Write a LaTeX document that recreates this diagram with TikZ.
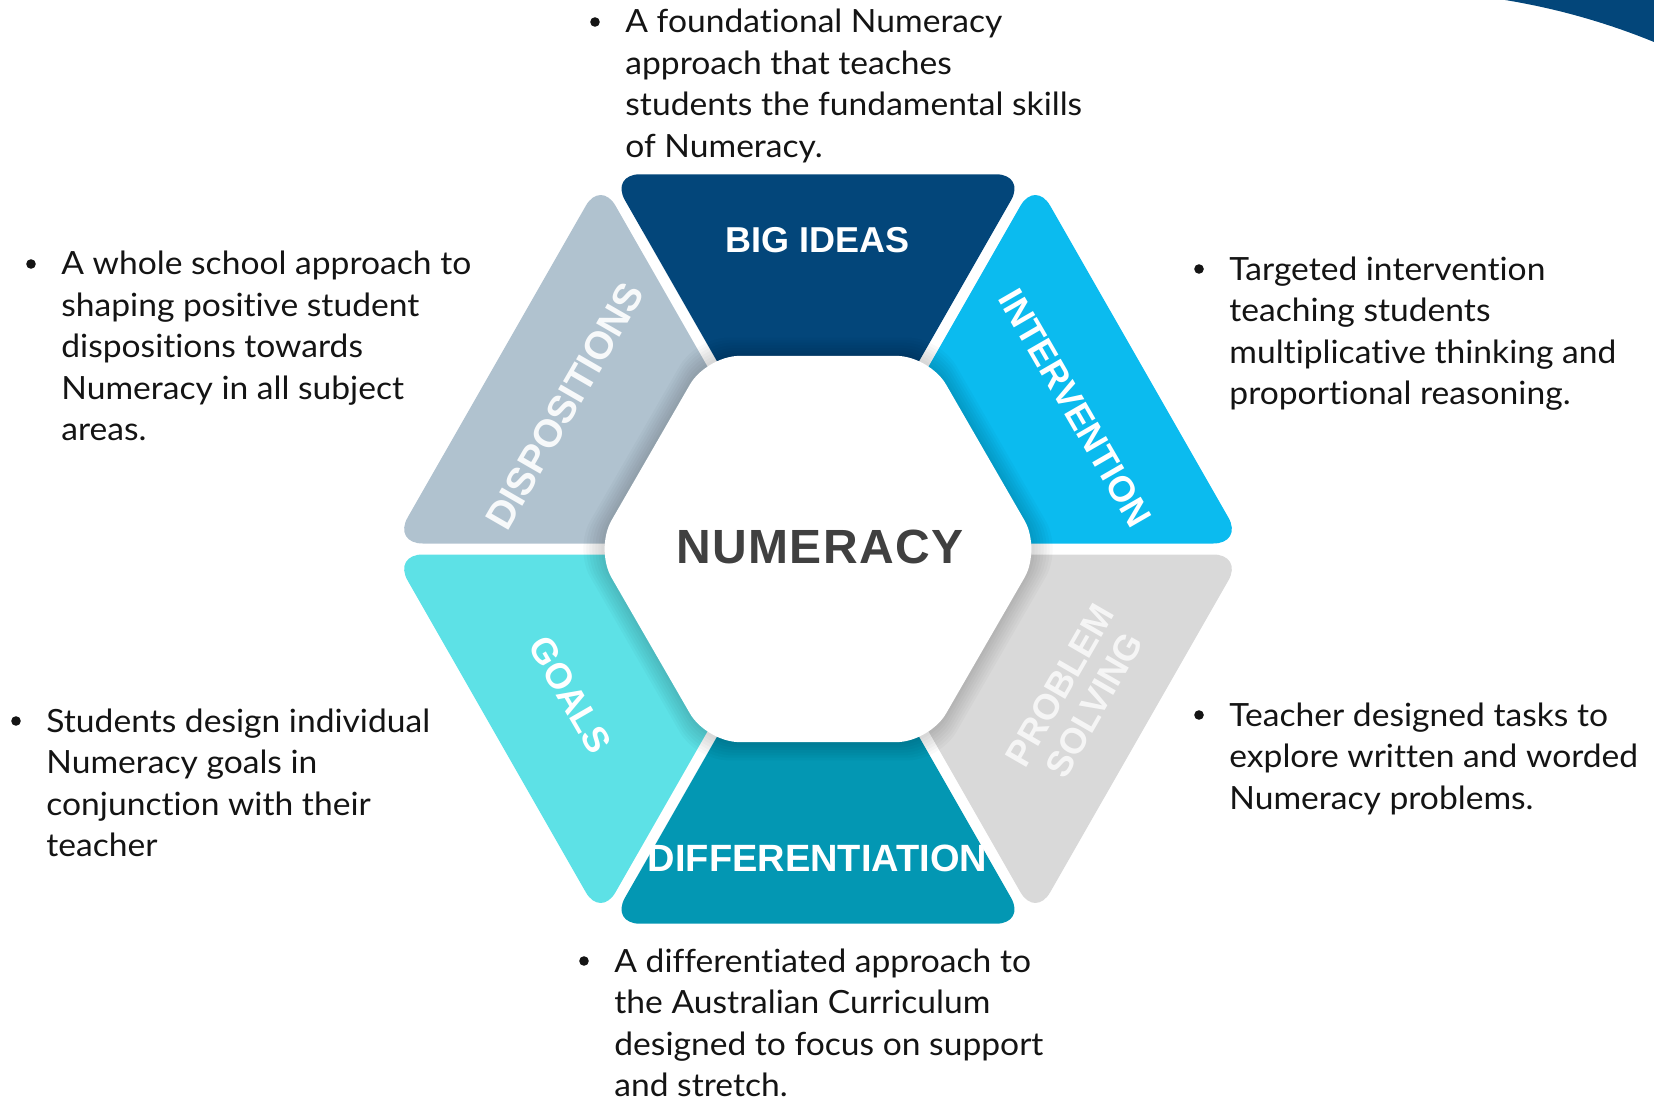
\documentclass[tikz,border=0pt]{standalone}
\usepackage{fontspec}
\setmainfont{Lato}[FakeStretch=1.05, Ligatures=NoCommon]
\newfontfamily\labelfont{Liberation Sans}
\newfontfamily\titlefont{Liberation Sans}[LetterSpace=3]
\usetikzlibrary{calc,positioning}

\definecolor{bigblue}{RGB}{3,70,122}
\definecolor{intblue}{RGB}{11,187,239}
\definecolor{probgrey}{RGB}{217,217,217}
\definecolor{diffteal}{RGB}{3,151,179}
\definecolor{goalcyan}{RGB}{93,225,230}
\definecolor{dispgrey}{RGB}{176,194,207}
\definecolor{numgrey}{RGB}{64,64,64}
\definecolor{inkblack}{RGB}{20,20,20}

\begin{document}
\begin{tikzpicture}[x=0.5pt, y=-0.5pt,
    seglabel/.style={text=white, inner sep=0pt, font=\labelfont\bfseries\fontsize{18}{20}\selectfont},
    bodytext/.style={anchor=base west, align=left, inner sep=0pt, text=inkblack, font=\fontsize{16}{20.75}\selectfont},
    bulletdot/.style={circle, fill=inkblack, inner sep=0pt, minimum size=4.8pt}]

\useasboundingbox (0,0) rectangle (1654,1101);

% corner swoosh
\fill[bigblue] (1505,0) .. controls (1560,9) and (1610,24) .. (1654,42) -- (1654,0) -- cycle;

% six segments of the hexagon
\coordinate (C) at (818,549);
\begin{scope}[shift={(C)}, xscale=0.99]
  \foreach \a/\col in {240/bigblue,300/intblue,0/probgrey,60/diffteal,120/goalcyan,180/dispgrey}
    \fill[\col, rounded corners=15pt] (\a+30:11) -- ++(\a:420) -- ++(\a+120:420) -- cycle;
\end{scope}

% soft shadow and white centre
\foreach \k in {1,...,7}
  \fill[black, opacity=0.022, rounded corners=16pt, shift={(C)}]
    (0:223+3*\k) -- (60:223+3*\k) -- (120:223+3*\k) -- (180:223+3*\k) -- (240:223+3*\k) -- (300:223+3*\k) -- cycle;
\fill[white, rounded corners=16.5pt, shift={(C)}]
  (0:223) -- (60:223) -- (120:223) -- (180:223) -- (240:223) -- (300:223) -- cycle;

% labels
\node[font=\titlefont\bfseries\fontsize{24}{26}\selectfont, text=numgrey, inner sep=0pt] (numeracy) at (820,546.5) {NUMERACY};
\node[seglabel] (bigideas) at (817.5,240) {BIG IDEAS};
\node[seglabel, rotate=-60] (intervention) at (1075,408) {INTERVENTION};
\node[seglabel, rotate=60, align=center, text opacity=0.75] (problem) at (1077,695) {PROBLEM\\SOLVING};
\node[seglabel, font=\labelfont\bfseries\fontsize{19}{20}\selectfont] (differentiation) at (817.5,858) {DIFFERENTIATION};
\node[seglabel, rotate=-60] (goals) at (570,695) {GOALS};
\node[seglabel, rotate=60, text opacity=0.9, font=\labelfont\bfseries\fontsize{19.5}{20}\selectfont] (dispositions) at (565,406) {DISPOSITIONS};

% descriptions (placed at the baseline of their last line)
\node[bodytext] (toptext) at (625,157.5) {A foundational Numeracy\\approach that teaches\\students the fundamental skills\\of Numeracy.};
\node[bodytext] (disptext) at (61,441) {A whole school approach to\\shaping positive student\\dispositions towards\\Numeracy in all subject\\areas.};
\node[bodytext] (inttext) at (1229,404.5) {Targeted intervention\\teaching students\\multiplicative thinking and\\proportional reasoning.};
\node[bodytext] (goaltext) at (46,856.5) {Students design individual\\Numeracy goals in\\conjunction with their\\teacher};
\node[bodytext] (probtext) at (1229,809) {Teacher designed tasks to\\explore written and worded\\Numeracy problems.};
\node[bodytext] (difftext) at (614,1096.5) {A differentiated approach to\\the Australian Curriculum\\designed to focus on support\\and stretch.};

\foreach \t/\n in {toptext/4,disptext/5,inttext/4,goaltext/4,probtext/3,difftext/4}
  \node[bulletdot] (\t-dot) at ($(\t.base west)+(-30,-11-41.5*\n+41.5)$) {};

\end{tikzpicture}
\end{document}
